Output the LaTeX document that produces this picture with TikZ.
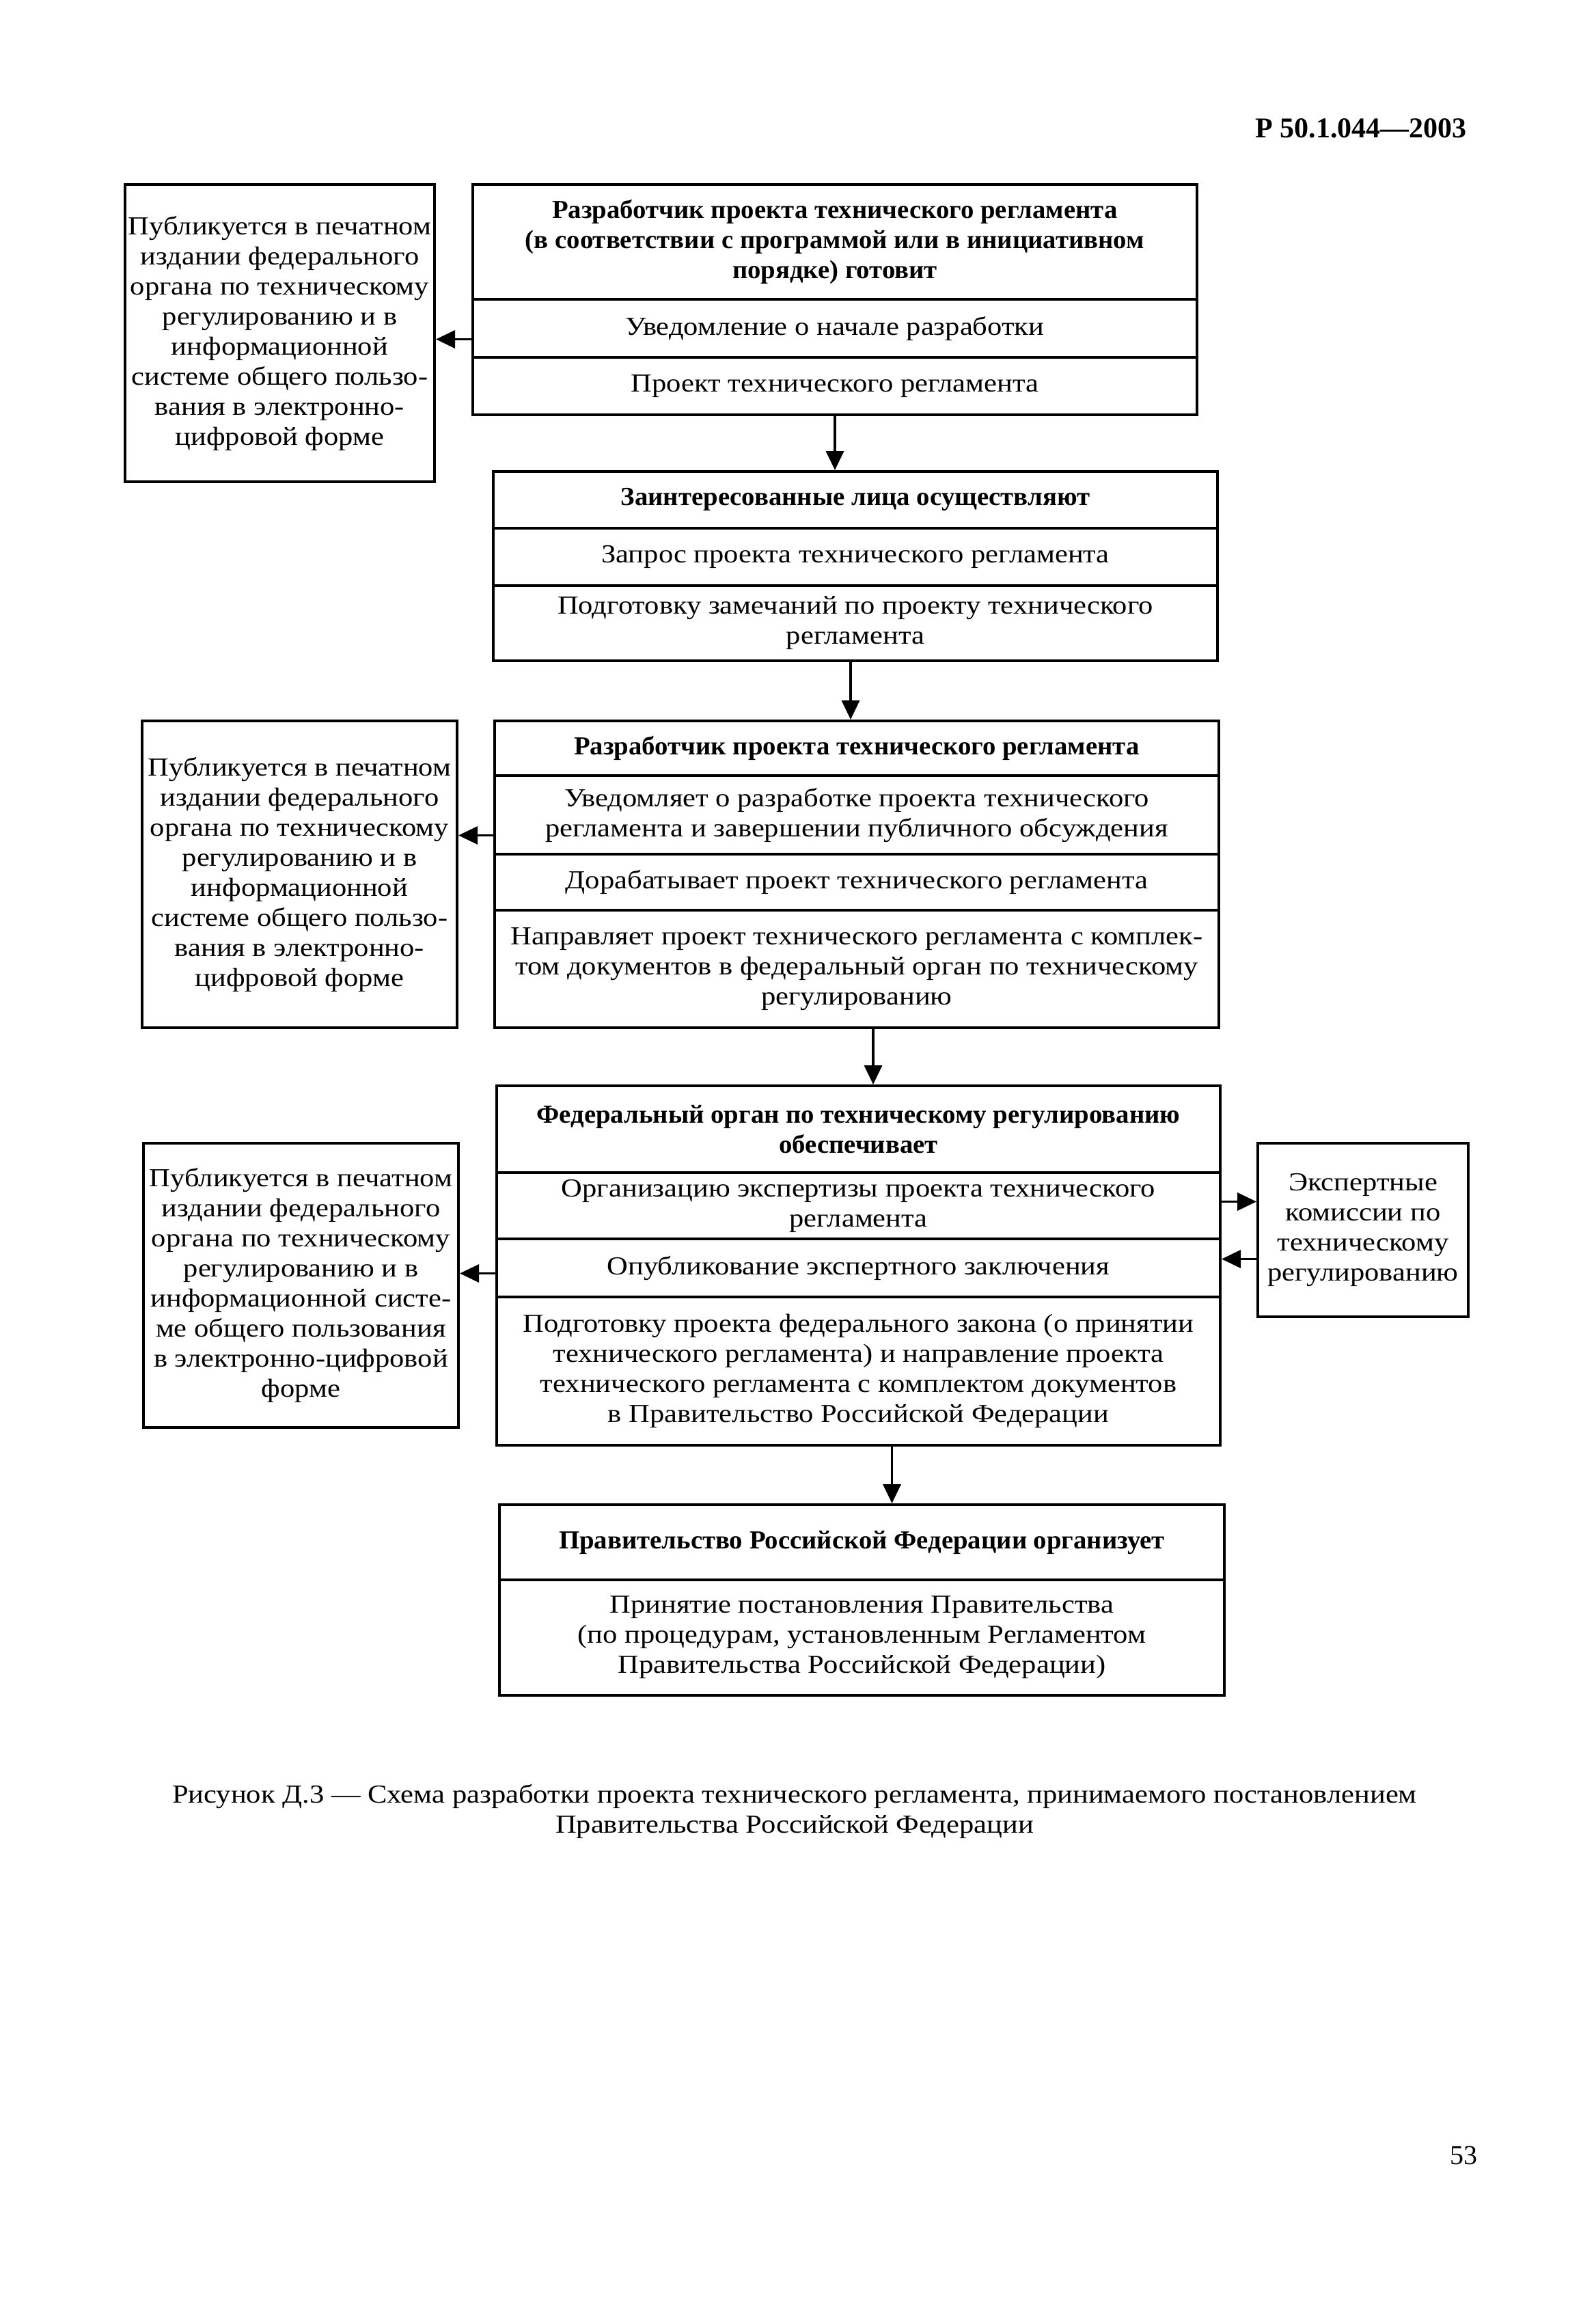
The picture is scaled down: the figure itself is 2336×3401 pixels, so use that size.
\documentclass[tikz,border=0pt]{standalone}
\usepackage{fontspec}
\setmainfont{Liberation Serif}[FakeStretch=1.12]
\newfontfamily\titlefont{Liberation Serif}[FakeStretch=1.02]
\newfontfamily\plainfont{Liberation Serif}
\usetikzlibrary{arrows.meta}
\begin{document}
\begin{tikzpicture}[x=1pt,y=-1pt,
  txt/.style={font=\fontsize{38}{44}\selectfont},
  cell/.style={draw, line width=4pt, inner sep=0pt, align=center, anchor=north west, txt},
  boldcell/.style={cell, font=\fontsize{38}{44}\selectfont\titlefont\bfseries},
  arr/.style={line width=3.5pt, -{Triangle[length=28pt,width=26pt]}}]
\fill[white] (0,0) rectangle (2336,3401);
\useasboundingbox (0,0) rectangle (2336,3401);

% header and page number
\node[anchor=base east, inner sep=0pt, font=\fontsize{42}{48}\selectfont\plainfont\bfseries] (hdr) at (2147,202) {Р 50.1.044—2003};
\node[anchor=base, inner sep=0pt, font=\fontsize{40}{46}\selectfont\plainfont] (pg) at (2142,3167) {53};

% Box A
\node[boldcell, minimum width=1060pt, minimum height=168pt] (A1) at (690,268)
  {Разработчик проекта технического регламента\\(в соответствии с программой или в инициативном\\порядке) готовит};
\node[cell, minimum width=1060pt, minimum height=85pt] (A2) at (690,436) {Уведомление о начале разработки};
\node[cell, minimum width=1060pt, minimum height=84pt] (A3) at (690,521) {Проект технического регламента};

% Left box 1
\node[cell, minimum width=453pt, minimum height=435pt] (L1) at (181,268)
  {Публикуется в печатном\\издании федерального\\органа по техническому\\регулированию и в\\информационной\\системе общего пользо-\\вания в электронно-\\цифровой форме};

% Box B
\node[boldcell, minimum width=1060pt, minimum height=83pt] (B1) at (720,688) {Заинтересованные лица осуществляют};
\node[cell, minimum width=1060pt, minimum height=84pt] (B2) at (720,771) {Запрос проекта технического регламента};
\node[cell, minimum width=1060pt, minimum height=110pt] (B3) at (720,855)
  {Подготовку замечаний по проекту технического\\регламента};

% Box C
\node[boldcell, minimum width=1060pt, minimum height=80pt] (C1) at (722,1053) {Разработчик проекта технического регламента};
\node[cell, minimum width=1060pt, minimum height=115pt] (C2) at (722,1133)
  {Уведомляет о разработке проекта технического\\регламента и завершении публичного обсуждения};
\node[cell, minimum width=1060pt, minimum height=82pt] (C3) at (722,1248) {Дорабатывает проект технического регламента};
\node[cell, minimum width=1060pt, minimum height=172pt] (C4) at (722,1330)
  {Направляет проект технического регламента с комплек-\\том документов в федеральный орган по техническому\\регулированию};

% Left box 2
\node[cell, minimum width=461pt, minimum height=449pt] (L2) at (206,1053)
  {Публикуется в печатном\\издании федерального\\органа по техническому\\регулированию и в\\информационной\\системе общего пользо-\\вания в электронно-\\цифровой форме};

% Box D
\node[boldcell, minimum width=1059pt, minimum height=127pt] (D1) at (725,1587)
  {Федеральный орган по техническому регулированию\\обеспечивает};
\node[cell, minimum width=1059pt, minimum height=97pt] (D2) at (725,1714)
  {Организацию экспертизы проекта технического\\регламента};
\node[cell, minimum width=1059pt, minimum height=85pt] (D3) at (725,1811) {Опубликование экспертного заключения};
\node[cell, minimum width=1059pt, minimum height=217pt] (D4) at (725,1896)
  {Подготовку проекта федерального закона (о принятии\\технического регламента) и направление проекта\\технического регламента с комплектом документов\\в Правительство Российской Федерации};

% Left box 3
\node[cell, minimum width=461pt, minimum height=416pt] (L3) at (208,1671)
  {Публикуется в печатном\\издании федерального\\органа по техническому\\регулированию и в\\информационной систе-\\ме общего пользования\\в электронно-цифровой\\форме};

% Right box
\node[cell, minimum width=308pt, minimum height=254pt] (R) at (1839,1671)
  {Экспертные\\комиссии по\\техническому\\регулированию};

% Box E
\node[boldcell, minimum width=1061pt, minimum height=110pt] (E1) at (729,2200) {Правительство Российской Федерации организует};
\node[cell, minimum width=1061pt, minimum height=169pt] (E2) at (729,2310)
  {Принятие постановления Правительства\\(по процедурам, установленным Регламентом\\Правительства Российской Федерации)};

% Caption
\node[txt, align=center, inner sep=0pt, anchor=base] (cap) at (1163,2682)
  {Рисунок Д.3 — Схема разработки проекта технического регламента, принимаемого постановлением\\Правительства Российской Федерации};

% connector anchor points
\coordinate (a2o) at ([yshift=-16pt]A2.west);
\coordinate (c2o) at ([yshift=-30pt]C2.west);
\coordinate (d3o) at ([yshift=-8pt]D3.west);
\coordinate (d2o) at ([yshift=6pt]D2.east);
\coordinate (r3o) at ([yshift=13pt]D3.east);
\coordinate (bo) at ([xshift=-7pt]B3.south);
\coordinate (co) at ([xshift=24pt]C4.south);
\coordinate (do) at ([xshift=49pt]D4.south);

% horizontal connectors
\draw[arr] (a2o) -- (a2o -| L1.east);
\draw[arr] (c2o) -- (c2o -| L2.east);
\draw[arr] (d3o) -- (d3o -| L3.east);
\draw[arr] (d2o) -- (d2o -| R.west);
\draw[arr] (r3o -| R.west) -- (r3o);

% vertical connectors
\draw[arr] (A3.south) -- (A3.south |- B1.north);
\draw[arr] (bo) -- (bo |- C1.north);
\draw[arr] (co) -- (co |- D1.north);
\draw[arr] (do) -- (do |- E1.north);
\end{tikzpicture}
\end{document}
